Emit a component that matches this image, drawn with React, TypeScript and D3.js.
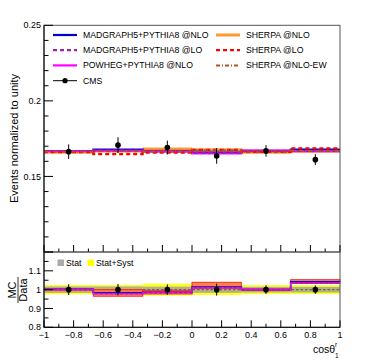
import React from "react";
import * as d3 from "d3";

// bins of cos(theta_1^r)
const binEdges = [-1, -2 / 3, -1 / 3, 0, 1 / 3, 2 / 3, 1];

// CMS data
const cmsValues = [0.1664, 0.1707, 0.1691, 0.1636, 0.1669, 0.1611];
const cmsErrors = [0.0048, 0.0052, 0.0046, 0.0052, 0.0038, 0.0036];

// predictions
const mg5Nlo = [0.1668, 0.1678, 0.1667, 0.1658, 0.1670, 0.1678];
const mg5Lo = [0.1665, 0.1672, 0.1663, 0.1655, 0.1668, 0.1668];
const powheg = [0.1666, 0.1670, 0.1665, 0.1652, 0.1672, 0.1666];
const sherpaNlo = [0.1662, 0.1668, 0.1680, 0.1672, 0.1660, 0.1666];
const sherpaNloUnc = [0.0012, 0.0010, 0.0012, 0.0015, 0.0010, 0.0010];
const sherpaLo = [0.1660, 0.1648, 0.1658, 0.1676, 0.1662, 0.1685];
const sherpaNloEw = [0.1663, 0.1666, 0.1664, 0.1674, 0.1660, 0.1670];

// ratio panel
const statUnc = [0.017, 0.017, 0.016, 0.017, 0.015, 0.015];
const totUnc = [0.025, 0.025, 0.032, 0.029, 0.024, 0.024];
const ratioBandLo = [0.997, 0.965, 0.977, 1.007, 0.997, 1.036];
const ratioBandHi = [1.003, 1.0, 0.996, 1.039, 1.003, 1.053];

const topTicks = [0.15, 0.2, 0.25];
const topTickLabels = ["0.15", "0.2", "0.25"];
const botTicks = [0.8, 0.9, 1, 1.1];
const botTickLabels = ["0.8", "0.9", "1", "1.1"];
const xTicks = [-1, -0.8, -0.6, -0.4, -0.2, 0, 0.2, 0.4, 0.6, 0.8, 1];
const xTickLabels = ["\u22121", "\u22120.8", "\u22120.6", "\u22120.4", "\u22120.2", "0", "0.2", "0.4", "0.6", "0.8", "1"];

const legendLeft = [
  { label: "MADGRAPH5+PYTHIA8 @NLO", color: "#0000cc", dash: "", width: 2.2 },
  { label: "MADGRAPH5+PYTHIA8 @LO", color: "#a020b0", dash: "4,3", width: 2.2 },
  { label: "POWHEG+PYTHIA8 @NLO", color: "#ff00ff", dash: "", width: 2.2 },
];
const legendRight = [
  { label: "SHERPA @NLO", color: "#ff9933", dash: "", width: 3 },
  { label: "SHERPA @LO", color: "#ff0000", dash: "4,3", width: 2.2 },
  { label: "SHERPA @NLO-EW", color: "#b3541e", dash: "4,2,1,2", width: 2 },
];

const font = "'Liberation Sans', Arial, sans-serif";

export default function App() {
  const x = d3.scaleLinear().domain([-1, 1]).range([44, 340]);
  const yTop = d3.scaleLinear().domain([0.1, 0.25]).range([252, 25.3]);
  const yBot = d3.scaleLinear().domain([0.8, 1.2]).range([327.3, 252]);

  const centers = binEdges.slice(0, -1).map((e, i) => (e + binEdges[i + 1]) / 2);

  const stepPath = (vals: number[], y: d3.ScaleLinear<number, number>) => {
    const pts: [number, number][] = vals.map((v, i) => [x(binEdges[i]), y(v)]);
    pts.push([x(binEdges[binEdges.length - 1]), y(vals[vals.length - 1])]);
    return d3.line().curve(d3.curveStepAfter)(pts) || "";
  };

  const bandRects = (
    lo: number[],
    hi: number[],
    y: d3.ScaleLinear<number, number>,
    fill: string,
    opacity: number,
    key: string,
    stroke?: string
  ) =>
    lo.map((l, i) => (
      <rect
        key={key + i}
        x={x(binEdges[i])}
        width={x(binEdges[i + 1]) - x(binEdges[i])}
        y={y(hi[i])}
        height={Math.max(0.8, y(lo[i]) - y(hi[i]))}
        fill={fill}
        fillOpacity={opacity}
        stroke={stroke || "none"}
        strokeWidth={1}
      />
    ));

  const ratio = (vals: number[]) => vals.map((v, i) => v / cmsValues[i]);

  const topMinor = d3.range(0.1, 0.2501, 0.01);
  const botMinor = d3.range(0.8, 1.2001, 0.05);
  const xMinor = d3.range(-1, 1.0001, 0.1);

  return (
    <svg width={370} height={360} style={{ position: "absolute", left: 0, top: 0, background: "#fff" }} fontFamily={font}>
      <rect width={370} height={360} fill="#fff" />

      {/* ===== upper panel ===== */}
      {bandRects(
        sherpaNlo.map((v, i) => v - sherpaNloUnc[i]),
        sherpaNlo.map((v, i) => v + sherpaNloUnc[i]),
        yTop,
        "#ffa040",
        0.9,
        "sn"
      )}
      <path d={stepPath(sherpaNlo, yTop)} fill="none" stroke="#e07b20" strokeWidth={1} />
      <path d={stepPath(mg5Nlo, yTop)} fill="none" stroke="#0000cc" strokeWidth={2} />
      <path d={stepPath(powheg, yTop)} fill="none" stroke="#ff00ff" strokeWidth={2} />
      <path d={stepPath(mg5Lo, yTop)} fill="none" stroke="#a020b0" strokeWidth={2} strokeDasharray="4,3" />
      <path d={stepPath(sherpaLo, yTop)} fill="none" stroke="#ff0000" strokeWidth={2.2} strokeDasharray="4,3" />
      <path d={stepPath(sherpaNloEw, yTop)} fill="none" stroke="#b3541e" strokeWidth={1.8} strokeDasharray="4,2,1,2" />

      {centers.map((c, i) => (
        <g key={"d" + i}>
          <line x1={x(c)} x2={x(c)} y1={yTop(cmsValues[i] - cmsErrors[i])} y2={yTop(cmsValues[i] + cmsErrors[i])} stroke="#000" strokeWidth={1} />
          <circle cx={x(c)} cy={yTop(cmsValues[i])} r={2.8} fill="#000" />
        </g>
      ))}

      {/* frame upper */}
      <rect x={44} y={25.3} width={296} height={252 - 25.3} fill="none" stroke="#555" strokeWidth={1} />
      <line x1={44} x2={44} y1={25.3} y2={252} stroke="#000" />
      {topMinor.map((t, i) => {
        const major = Math.abs(Math.round(t * 100) % 5) === 0;
        return <line key={"tm" + i} x1={44} x2={44 + (major ? 9 : 4.5)} y1={yTop(t)} y2={yTop(t)} stroke="#000" />;
      })}
      {topTicks.map((t, i) => (
        <text key={"tl" + i} x={41} y={yTop(t)} dy="0.35em" fontSize={9} textAnchor="end">
          {topTickLabels[i]}
        </text>
      ))}
      {xMinor.map((t, i) => {
        const major = i % 2 === 0;
        return <line key={"xu" + i} x1={x(t)} x2={x(t)} y1={252} y2={252 - (major ? 7 : 3.5)} stroke="#000" />;
      })}
      <text transform="translate(18,138.5) rotate(-90)" textAnchor="middle" fontSize={11}>
        Events normalized to unity
      </text>

      {/* legend */}
      {legendLeft.map((l, i) => (
        <g key={"ll" + i} transform={`translate(0,${35 + i * 15.2})`}>
          <line x1={53} x2={77} y1={0} y2={0} stroke={l.color} strokeWidth={l.width} strokeDasharray={l.dash} />
          <text x={83} y={0} dy="0.35em" fontSize={8.7}>{l.label}</text>
        </g>
      ))}
      <g transform="translate(0,80.7)">
        <line x1={53} x2={77} y1={0} y2={0} stroke="#000" strokeWidth={1} />
        <circle cx={65} cy={0} r={2.6} fill="#000" />
        <text x={83} y={0} dy="0.35em" fontSize={8.7}>CMS</text>
      </g>
      {legendRight.map((l, i) => (
        <g key={"lr" + i} transform={`translate(0,${35 + i * 15.2})`}>
          <line x1={216} x2={240} y1={0} y2={0} stroke={l.color} strokeWidth={l.width} strokeDasharray={l.dash} />
          <text x={246} y={0} dy="0.35em" fontSize={8.7}>{l.label}</text>
        </g>
      ))}

      {/* ===== lower panel ===== */}
      {bandRects(totUnc.map((u) => 1 - u), totUnc.map((u) => 1 + u), yBot, "#ffff00", 0.85, "tot")}
      {bandRects(statUnc.map((u) => 1 - u), statUnc.map((u) => 1 + u), yBot, "#999999", 0.75, "st")}
      <line x1={44} x2={340} y1={yBot(1)} y2={yBot(1)} stroke="#666" strokeWidth={1.3} strokeDasharray="2.5,2" />
      {bandRects(ratioBandLo, ratioBandHi, yBot, "#ff7040", 0.85, "rb", "#ff2a1a")}
      <path d={stepPath(ratio(mg5Nlo), yBot)} fill="none" stroke="#0000cc" strokeWidth={1.5} />
      <path d={stepPath(ratio(powheg), yBot)} fill="none" stroke="#ff00ff" strokeWidth={1.5} />
      <path d={stepPath(ratio(mg5Lo), yBot)} fill="none" stroke="#a020b0" strokeWidth={1.5} strokeDasharray="3,2" />

      {centers.map((c, i) => {
        const rel = cmsErrors[i] / cmsValues[i];
        return (
          <g key={"r" + i}>
            <line x1={x(c)} x2={x(c)} y1={yBot(1 - rel)} y2={yBot(1 + rel)} stroke="#000" strokeWidth={1} />
            <circle cx={x(c)} cy={yBot(1)} r={2.8} fill="#000" />
          </g>
        );
      })}

      <rect x={44} y={252} width={296} height={327.3 - 252} fill="none" stroke="#555" strokeWidth={1} />
      <line x1={44} x2={44} y1={252} y2={327.3} stroke="#000" />
      <line x1={44} x2={340} y1={327.3} y2={327.3} stroke="#000" />
      {botMinor.map((t, i) => {
        const major = i % 2 === 0;
        return <line key={"bm" + i} x1={44} x2={44 + (major ? 9 : 4.5)} y1={yBot(t)} y2={yBot(t)} stroke="#000" />;
      })}
      {botTicks.map((t, i) => (
        <text key={"bl" + i} x={41} y={yBot(t)} dy="0.35em" fontSize={9} textAnchor="end">
          {botTickLabels[i]}
        </text>
      ))}
      {xMinor.map((t, i) => {
        const major = i % 2 === 0;
        return <line key={"xb" + i} x1={x(t)} x2={x(t)} y1={327.3} y2={327.3 - (major ? 7 : 3.5)} stroke="#000" />;
      })}
      {xTicks.map((t, i) => (
        <text key={"xl" + i} x={x(t)} y={338} fontSize={9} textAnchor="middle">
          {xTickLabels[i]}
        </text>
      ))}

      {/* ratio legend */}
      <rect x={57.5} y={259.5} width={6.5} height={6.5} fill="#aaaaaa" />
      <text x={66} y={262.8} dy="0.35em" fontSize={8.7}>Stat</text>
      <rect x={87.5} y={259.5} width={6.5} height={6.5} fill="#ffff00" />
      <text x={96} y={262.8} dy="0.35em" fontSize={8.7}>Stat+Syst</text>

      {/* ratio y title */}
      <g transform="translate(18,290) rotate(-90)" fontSize={11}>
        <text x={0} y={-2} textAnchor="middle">MC</text>
        <line x1={-13} x2={13} y1={0} y2={0} stroke="#000" strokeWidth={0.8} />
        <text x={0} y={9} textAnchor="middle">Data</text>
      </g>

      {/* x title */}
      <text x={313} y={353} fontSize={10.5}>cosθ</text>
      <text x={335} y={346.5} fontSize={6.5}>r</text>
      <text x={335} y={357.5} fontSize={6.5}>1</text>
    </svg>
  );
}
